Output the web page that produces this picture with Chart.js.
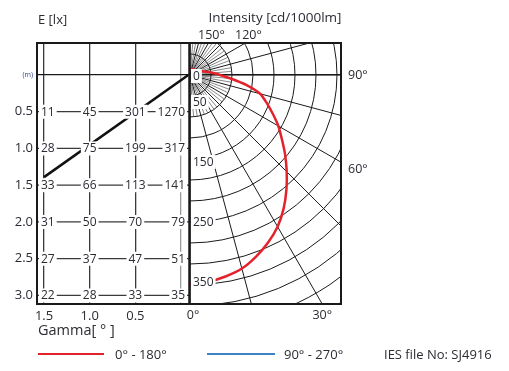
<!DOCTYPE html>
<html>
<head>
<meta charset="utf-8">
<script src="https://cdn.jsdelivr.net/npm/chart.js@4.4.0/dist/chart.umd.min.js"></script>
<style>
  html, body { margin: 0; padding: 0; background: #fff; }
  #wrap { position: relative; width: 509px; height: 371px; }
</style>
</head>
<body>
<div id="wrap"><canvas id="photometry" width="509" height="371"></canvas></div>
<script>
// Освещенность E [lx] по высоте и расстоянию
const mountHeights = [0.5, 1.0, 1.5, 2.0, 2.5, 3.0];
const distances = [1.5, 1.0, 0.5, 0];
const luxAt15 = [11, 28, 33, 31, 27, 22];
const luxAt10 = [45, 75, 66, 50, 37, 28];
const luxAt05 = [301, 199, 113, 70, 47, 33];
const luxAt00 = [1270, 317, 141, 79, 51, 35];

// Линия половины угла луча (м)
const beamX = [-0.08, 1.5];
const beamY = [0, 1.39];

// Кривая силы света C0-C180, cd/1000lm
const gammaDeg = [0, 5, 10, 15, 20, 25, 30, 35, 40, 45, 50, 55, 60, 65, 70, 75, 80, 85, 90, 95, 100, 110, 120, 135, 150, 165, 180];
const intensity = [348, 346, 341, 334, 322, 308, 292, 272, 250, 228, 207, 187, 170, 152, 136, 121, 95, 68, 50, 38, 30, 19, 15, 12, 11, 10, 10];

// Сетка полярной диаграммы
const ringStep = 35;
const ringCount = 13;
const ringLabels = [50, 150, 250, 350];
const angleTicks = [0, 30, 60, 90, 120, 150];

const FONT = 'Open Sans';
const TEXT = '#2b2b33';
const rad = d => d * Math.PI / 180;

const photometryPlugin = {
    id: 'photometry',
    beforeDatasetsDraw(chart) {
        const { ctx, chartArea: area, scales } = chart;
        const { xL, yL, xP, yP } = scales;
        const ox = xP.getPixelForValue(0);
        const oy = yP.getPixelForValue(0);

        ctx.save();
        // горизонтальные линии таблицы
        ctx.strokeStyle = '#3a3a3a';
        ctx.lineWidth = 1.3;
        mountHeights.forEach(h => {
            const y = yL.getPixelForValue(h);
            ctx.beginPath();
            ctx.moveTo(area.left, y);
            ctx.lineTo(ox, y);
            ctx.stroke();
        });

        // полярная сетка
        ctx.beginPath();
        ctx.rect(ox, area.top, area.right - ox, area.bottom - area.top);
        ctx.clip();
        ctx.strokeStyle = '#1a1a1a';
        ctx.lineWidth = 1;
        for (let k = 1; k <= ringCount; k++) {
            const r = xP.getPixelForValue(k * ringStep) - ox;
            ctx.beginPath();
            ctx.arc(ox, oy, r, -Math.PI / 2, Math.PI / 2);
            ctx.stroke();
        }
        for (let g = 0; g <= 180; g += 5) {
            const major = g % 15 === 0;
            const len = major ? 700 : ringStep * 2;
            ctx.strokeStyle = major ? '#1a1a1a' : '#555';
            ctx.lineWidth = major ? 1 : 0.7;
            ctx.beginPath();
            ctx.moveTo(ox, oy);
            ctx.lineTo(xP.getPixelForValue(len * Math.sin(rad(g))), yP.getPixelForValue(-len * Math.cos(rad(g))));
            ctx.stroke();
        }
        ctx.restore();
    },
    afterDatasetsDraw(chart) {
        const { ctx, chartArea: area, scales } = chart;
        const { xL, yL, xP, yP } = scales;
        const ox = xP.getPixelForValue(0);
        const oy = yP.getPixelForValue(0);

        const boxText = (txt, x, y, align, size) => {
            ctx.font = `${size}px "${FONT}"`;
            const w = ctx.measureText(txt).width;
            let left = x;
            if (align === 'center') left = x - w / 2;
            if (align === 'right') left = x - w;
            ctx.fillStyle = '#fff';
            ctx.fillRect(left - 2, y - 7, w + 4, 14);
            ctx.fillStyle = TEXT;
            ctx.textAlign = 'left';
            ctx.textBaseline = 'middle';
            ctx.fillText(txt, left, y + 0.5);
        };

        ctx.save();
        // значения освещенности
        const columns = [luxAt15, luxAt10, luxAt05, luxAt00];
        columns.forEach((col, ci) => {
            const d = distances[ci];
            col.forEach((v, ri) => {
                const y = yL.getPixelForValue(mountHeights[ri]);
                let x = xL.getPixelForValue(d);
                let align = 'center';
                if (ci === 0) { x = area.left + 4; align = 'left'; }
                if (d === 0) { x = x + 4; align = 'right'; }
                boxText(String(v), x, y, align, 12);
            });
        });

        // подписи радиусов
        boxText('0', ox + 3, oy + 1, 'left', 12);
        ringLabels.forEach(v => {
            boxText(String(v), ox + 3, yP.getPixelForValue(-v) - 3, 'left', 12);
        });

        // рамка
        ctx.strokeStyle = '#1a1a1a';
        ctx.lineWidth = 2;
        ctx.strokeRect(area.left, area.top, area.right - area.left, area.bottom - area.top);
        ctx.lineWidth = 2.5;
        ctx.beginPath();
        ctx.moveTo(ox - 0.5, area.top);
        ctx.lineTo(ox - 0.5, area.bottom);
        ctx.stroke();

        // подписи углов
        ctx.font = `12.5px "${FONT}"`;
        ctx.fillStyle = TEXT;
        angleTicks.forEach(g => {
            const dx = Math.sin(rad(g)), dy = Math.cos(rad(g));
            let t = Infinity, edge = '';
            if (dy > 1e-6 && (area.bottom - oy) / dy < t) { t = (area.bottom - oy) / dy; edge = 'bottom'; }
            if (dy < -1e-6 && (area.top - oy) / dy < t) { t = (area.top - oy) / dy; edge = 'top'; }
            if (dx > 1e-6 && (area.right - ox) / dx < t) { t = (area.right - ox) / dx; edge = 'right'; }
            const hx = ox + dx * t, hy = oy + dy * t;
            const label = g + '°';
            if (edge === 'bottom') {
                ctx.textAlign = 'center'; ctx.textBaseline = 'top';
                ctx.fillText(label, Math.max(hx, ox + 3), area.bottom + 5);
            } else if (edge === 'top') {
                ctx.textAlign = 'center'; ctx.textBaseline = 'bottom';
                ctx.fillText(label, hx + 3, area.top - 1);
            } else {
                ctx.textAlign = 'left'; ctx.textBaseline = 'middle';
                ctx.fillText(label, area.right + 7, g === 90 ? hy : hy + 7);
            }
        });
        ctx.restore();
    },
    afterDraw(chart) {
        const { ctx, chartArea: area } = chart;
        ctx.save();
        ctx.fillStyle = TEXT;
        ctx.textBaseline = 'middle';
        ctx.textAlign = 'left';
        ctx.font = `13px "${FONT}"`;
        ctx.fillText('E [lx]', area.left + 1, 20);
        ctx.font = `13.5px "${FONT}"`;
        ctx.textAlign = 'center';
        ctx.fillText('Intensity [cd/1000lm]', 275, 18);
        ctx.textAlign = 'left';
        ctx.font = `14.5px "${FONT}"`;
        ctx.fillText('Gamma[ ° ]', 38, 331);

        // легенда
        ctx.lineWidth = 2;
        ctx.strokeStyle = '#e4222b';
        ctx.beginPath(); ctx.moveTo(38, 354); ctx.lineTo(104, 354); ctx.stroke();
        ctx.strokeStyle = '#3c82c6';
        ctx.beginPath(); ctx.moveTo(207, 354); ctx.lineTo(275, 354); ctx.stroke();
        ctx.font = `13px "${FONT}"`;
        ctx.fillText('0° - 180°', 115, 355);
        ctx.fillText('90° - 270°', 284, 355);
        ctx.fillText('IES file No: SJ4916', 384, 355);
        ctx.restore();
    }
};

const ctx = document.getElementById('photometry').getContext('2d');

new Chart(ctx, {
    type: 'scatter',
    data: {
        datasets: [
            {
                label: '0° - 180°',
                data: gammaDeg.map((g, i) => ({
                    x: intensity[i] * Math.sin(rad(g)),
                    y: -intensity[i] * Math.cos(rad(g))
                })),
                xAxisID: 'xP',
                yAxisID: 'yP',
                showLine: true,
                borderColor: '#e4222b',
                borderWidth: 2.5,
                pointRadius: 0,
                tension: 0.2
            },
            {
                label: 'beam',
                data: beamX.map((x, i) => ({ x, y: beamY[i] })),
                xAxisID: 'xL',
                yAxisID: 'yL',
                showLine: true,
                borderColor: '#111',
                borderWidth: 2.5,
                pointRadius: 0
            }
        ]
    },
    options: {
        responsive: false,
        animation: false,
        devicePixelRatio: 1,
        layout: { padding: { top: 43, right: 168, left: 0, bottom: 0 } },
        plugins: { legend: { display: false }, tooltip: { enabled: false } },
        scales: {
            xL: {
                type: 'linear',
                position: 'bottom',
                reverse: true,
                min: -1.752,
                max: 1.577,
                afterBuildTicks: s => { s.ticks = distances.map(v => ({ value: v })); },
                afterFit: s => { s.height = 67; },
                ticks: {
                    callback: v => v === 0 ? '' : v.toFixed(1),
                    font: { family: FONT, size: 13 },
                    color: TEXT,
                    padding: 4,
                    maxRotation: 0,
                    autoSkip: false
                },
                grid: {
                    drawTicks: false,
                    color: c => c.tick && c.tick.value === 0 ? '#9a9a9a' : '#3a3a3a',
                    lineWidth: 1.3
                },
                border: { display: false }
            },
            yL: {
                type: 'linear',
                position: 'left',
                reverse: true,
                min: -0.435,
                max: 3.116,
                afterBuildTicks: s => { s.ticks = [0, ...mountHeights].map(v => ({ value: v })); },
                afterFit: s => { s.width = 37; },
                ticks: {
                    callback: v => v === 0 ? '(m)' : v.toFixed(1),
                    font: c => ({ family: FONT, size: c.tick && c.tick.value === 0 ? 7 : 13 }),
                    color: c => c.tick && c.tick.value === 0 ? '#34468a' : TEXT,
                    padding: 4,
                    autoSkip: false
                },
                grid: {
                    drawTicks: false,
                    color: c => c.tick && c.tick.value === 0 ? '#1a1a1a' : 'rgba(0,0,0,0)',
                    lineWidth: 1.3
                },
                border: { display: false }
            },
            xP: { type: 'linear', display: false, min: -255, max: 251.67 },
            yP: { type: 'linear', display: false, min: -381.7, max: 53.3 }
        }
    },
    plugins: [photometryPlugin]
});
</script>
</body>
</html>
